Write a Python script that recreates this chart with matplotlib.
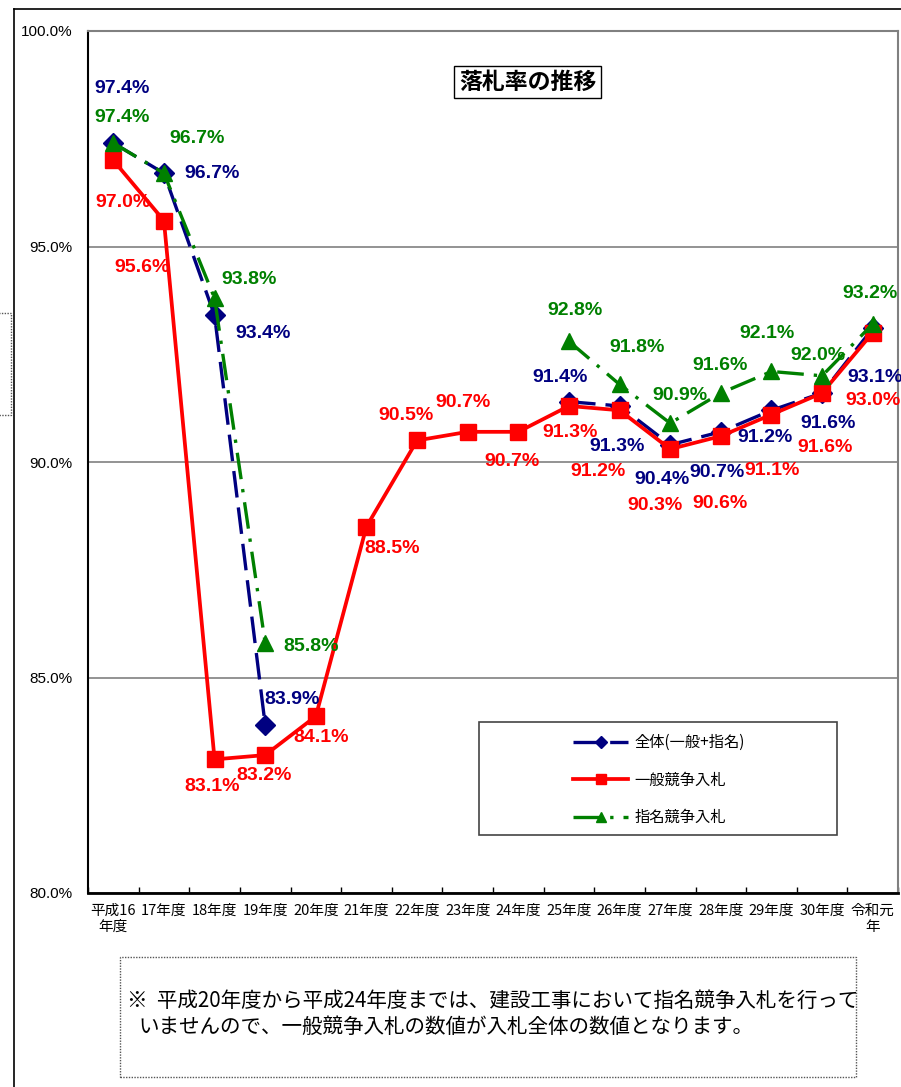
import numpy as np
import matplotlib
matplotlib.use("Agg")
import matplotlib.pyplot as plt
from matplotlib.patches import Rectangle
from matplotlib.lines import Line2D

plt.rcParams['font.family'] = ['Noto Sans CJK JP', 'DejaVu Sans']

W, H = 901, 1087

years = ["平成16\n年度", "17年度", "18年度", "19年度", "20年度", "21年度", "22年度",
         "23年度", "24年度", "25年度", "26年度", "27年度", "28年度", "29年度",
         "30年度", "令和元\n年"]
nan = np.nan
zentai = [97.4, 96.7, 93.4, 83.9, nan, nan, nan, nan, nan,
          91.4, 91.3, 90.4, 90.7, 91.2, 91.6, 93.1]
ippan = [97.0, 95.6, 83.1, 83.2, 84.1, 88.5, 90.5, 90.7, 90.7,
         91.3, 91.2, 90.3, 90.6, 91.1, 91.6, 93.0]
shimei = [97.4, 96.7, 93.8, 85.8, nan, nan, nan, nan, nan,
          92.8, 91.8, 90.9, 91.6, 92.1, 92.0, 93.2]
names = ["全体(一般+指名)", "一般競争入札", "指名競争入札"]

# label offsets in pixels (dx, dy), y up
off_z = [(9, 55), (48, 0), (48, -18), (27, 25), None, None, None, None, None,
         (-9, 24), (-3, -41), (-8, -35), (-4, -41), (-6, -27), (6, -30), (2, -49)]
off_i = [(10, -42), (-22, -47), (-2, -27), (-1, -20), (5, -21), (26, -22), (-11, 25),
         (-5, 29), (-6, -30), (1, -27), (-22, -61), (-15, -56), (-1, -67), (1, -56),
         (3, -54), (0, -68)]
off_s = [(9, 26), (33, 35), (35, 19), (46, -3), None, None, None, None, None,
         (6, 31), (18, 37), (10, 28), (-1, 28), (-4, 38), (-4, 20), (-3, 31)]

NAVY, RED, GREEN = "#000080", "#ff0000", "#008000"
NUMFONT = ["Liberation Sans", "DejaVu Sans"]


def fx(x):
    return x / W


def fy(y):
    return 1 - y / H


fig = plt.figure(figsize=(W / 100, H / 100), dpi=100)
ax = fig.add_axes([fx(88), fy(893), (898 - 88) / W, (893 - 31) / H])

x = np.arange(len(years))
ax.plot(x, zentai, color=NAVY, lw=2.4, ls=(0, (8, 3)), marker="D", ms=10.5,
        mec=NAVY, mfc=NAVY, zorder=3)
ax.plot(x, ippan, color=RED, lw=2.7, ls="-", marker="s", ms=11.5,
        mec=RED, mfc=RED, zorder=4)
ax.plot(x, shimei, color=GREEN, lw=2.4, ls=(0, (8, 3, 1, 3)), marker="^", ms=11.5,
        mec=GREEN, mfc=GREEN, zorder=5)

for vals, offs, col in [(zentai, off_z, NAVY), (ippan, off_i, RED), (shimei, off_s, GREEN)]:
    for i, v in enumerate(vals):
        if np.isnan(v):
            continue
        ax.annotate(f"{v:.1f}%", (x[i], v), xytext=offs[i], textcoords="offset pixels",
                    ha="center", va="center", color=col, fontsize=14, fontweight="bold",
                    family=NUMFONT, zorder=6, annotation_clip=False)

ax.set_xlim(-0.5, len(years) - 0.5)
ax.set_ylim(80, 100)
ax.set_yticks([80, 85, 90, 95, 100])
ax.set_yticklabels([f"{t:.1f}%" for t in [80, 85, 90, 95, 100]],
                   family=NUMFONT, fontsize=11)
ax.tick_params(axis="y", length=0, pad=11.5)
ax.set_xticks(x)
ax.set_xticklabels(years, fontsize=10.5, linespacing=1.15)
ax.set_xticks(np.arange(len(years) + 1) - 0.5, minor=True)
ax.tick_params(axis="x", which="major", length=0, pad=8)
ax.tick_params(axis="x", which="minor", length=4, direction="in", width=1, color="black")
ax.yaxis.grid(True, color="#808080", lw=1.2)
ax.set_axisbelow(True)
for s in ["top", "right"]:
    ax.spines[s].set_color("#808080")
    ax.spines[s].set_linewidth(1.5)
ax.spines["left"].set_linewidth(1.5)
ax.spines["bottom"].set_linewidth(2)

# title box
fig.text(fx(527.5), fy(82), "落札率の推移", ha="center", va="center", fontsize=16.5,
         fontweight="bold",
         bbox=dict(boxstyle="square,pad=0.2", fc="white", ec="black", lw=1))

# legend
fig.patches.append(Rectangle((fx(479), fy(835)), (837 - 479) / W, (835 - 722) / H,
                             transform=fig.transFigure, fill=True, fc="white",
                             ec="#444444", lw=1.2, zorder=5))
handles = [
    Line2D([], [], color=NAVY, lw=2.4, ls=(0, (8, 3)), marker="D", ms=6),
    Line2D([], [], color=RED, lw=2.7, marker="s", ms=7),
    Line2D([], [], color=GREEN, lw=2.4, ls=(0, (8, 3, 1, 3)), marker="^", ms=7),
]
leg = fig.legend(handles, names, loc="center left",
                 bbox_to_anchor=(fx(573), fy(780)), bbox_transform=fig.transFigure,
                 frameon=False, fontsize=11, handlelength=3.6, handletextpad=0.4,
                 labelspacing=1.35, borderpad=0, borderaxespad=0)
leg.set_zorder(6)

# note box
fig.patches.append(Rectangle((fx(120), fy(1077)), (856 - 120) / W, (1077 - 957) / H,
                             transform=fig.transFigure, fill=False, ec="#555555",
                             lw=1, ls=(0, (1, 1))))
fig.text(fx(127), fy(1001), "※  平成20年度から平成24年度までは、建設工事において指名競争入札を行って",
         ha="left", va="center", fontsize=14.8)
fig.text(fx(138), fy(1027), "いませんので、一般競争入札の数値が入札全体の数値となります。",
         ha="left", va="center", fontsize=14.8)

# outer chart frame
fig.lines.append(Line2D([fx(14), fx(14)], [fy(9), 0], transform=fig.transFigure,
                        color="black", lw=1.2))
fig.lines.append(Line2D([fx(14), 1], [fy(9), fy(9)], transform=fig.transFigure,
                        color="black", lw=1.2))
# partial dotted box on left edge
fig.patches.append(Rectangle((fx(-40), fy(415)), 51 / W, (415 - 313) / H,
                             transform=fig.transFigure, fill=False, ec="#555555",
                             lw=1, ls=(0, (1, 1))))

fig.savefig("out.png", dpi=100)
